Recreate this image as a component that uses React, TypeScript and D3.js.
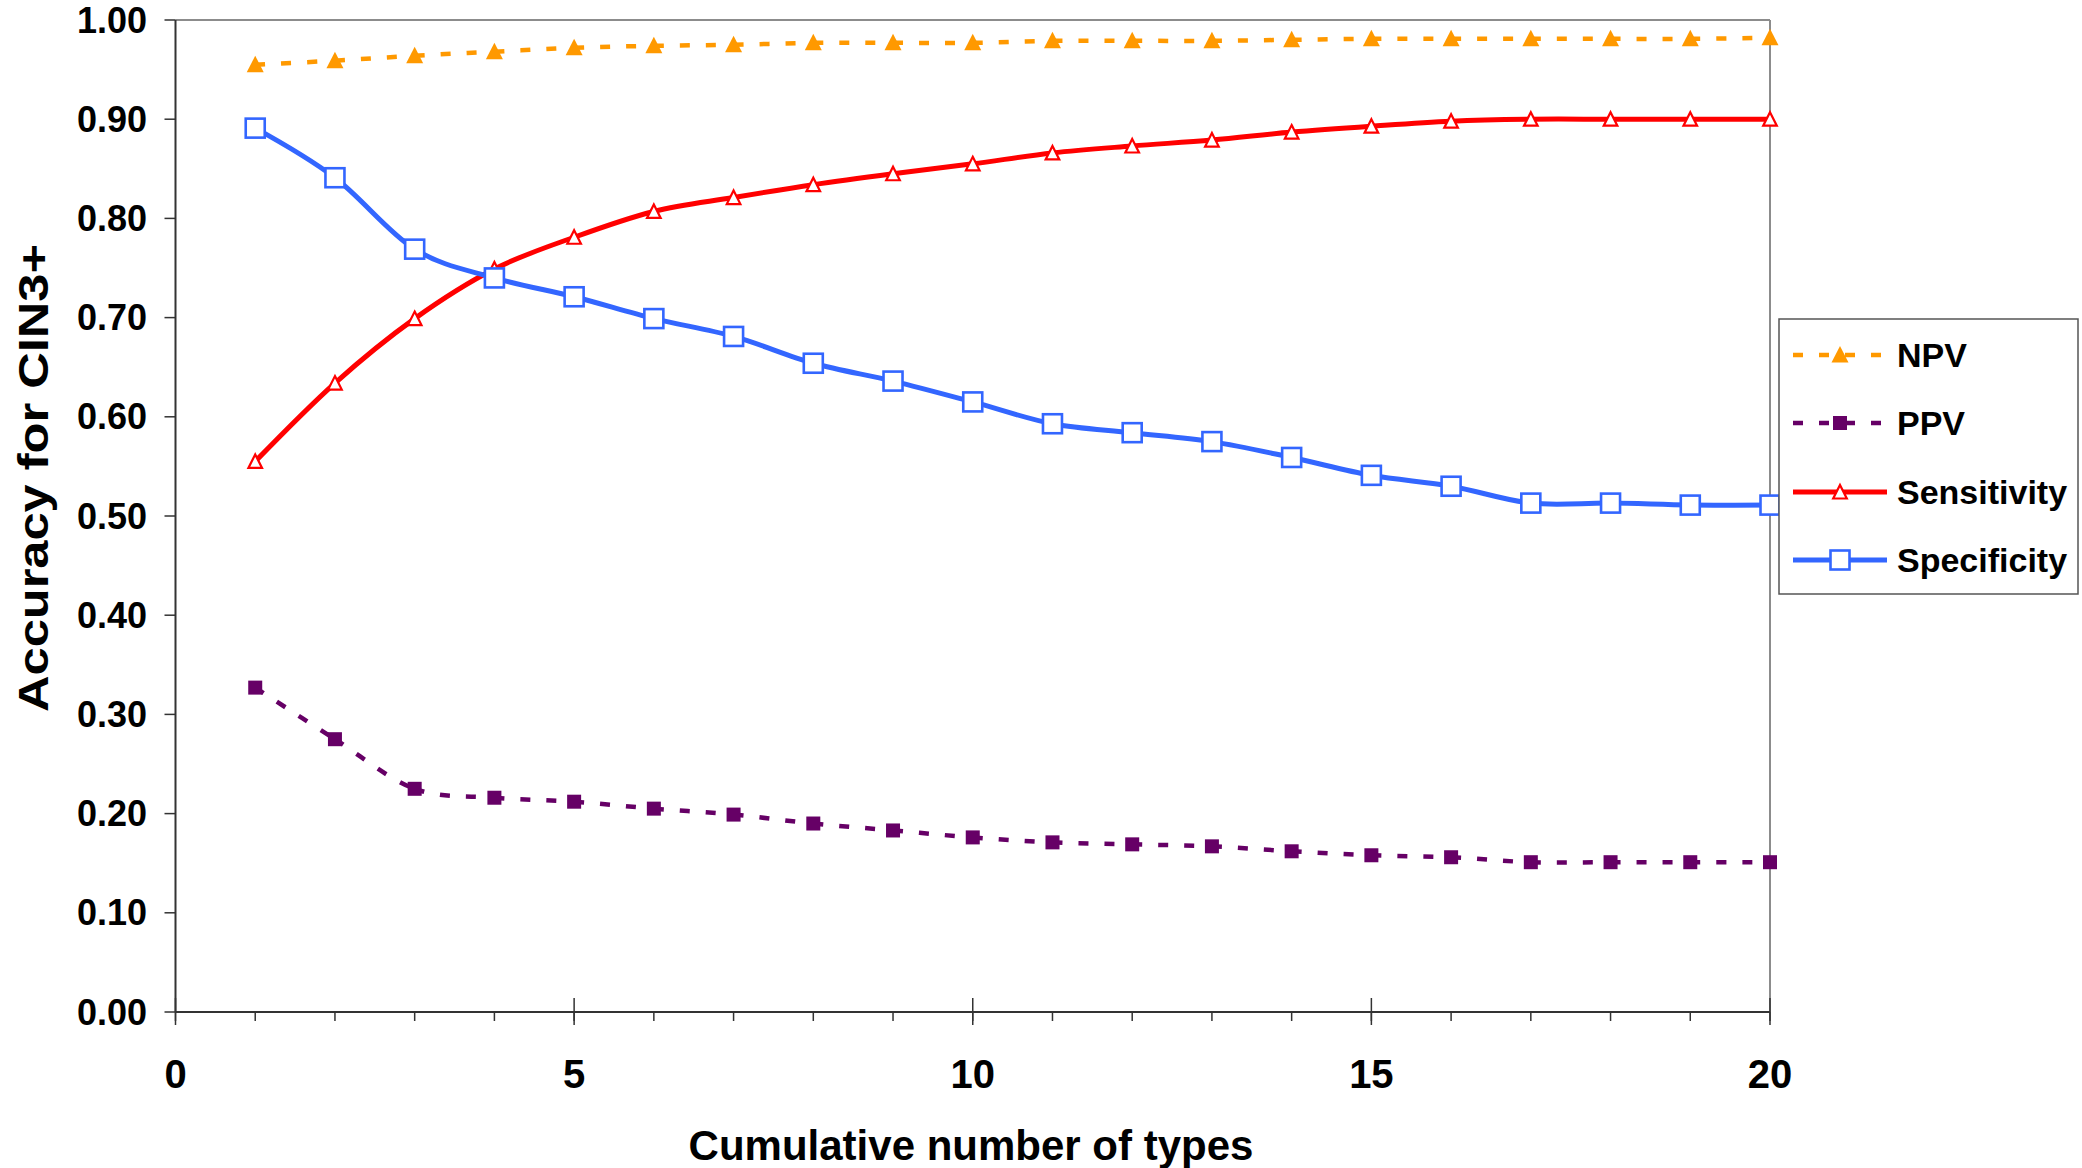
import React, { useEffect } from 'react';
import * as d3 from 'd3';

const types = [1, 2, 3, 4, 5, 6, 7, 8, 9, 10, 11, 12, 13, 14, 15, 16, 17, 18, 19, 20];
const npv = [0.955, 0.959, 0.964, 0.968, 0.972, 0.974, 0.975, 0.977, 0.977, 0.977, 0.979, 0.979, 0.979, 0.980, 0.981, 0.981, 0.981, 0.981, 0.981, 0.982];
const ppv = [0.327, 0.275, 0.225, 0.216, 0.212, 0.205, 0.199, 0.190, 0.183, 0.176, 0.171, 0.169, 0.167, 0.162, 0.158, 0.156, 0.151, 0.151, 0.151, 0.151];
const sensitivity = [0.555, 0.634, 0.699, 0.749, 0.781, 0.807, 0.821, 0.834, 0.845, 0.855, 0.866, 0.873, 0.879, 0.887, 0.893, 0.898, 0.900, 0.900, 0.900, 0.900];
const specificity = [0.891, 0.841, 0.769, 0.740, 0.721, 0.699, 0.681, 0.654, 0.636, 0.615, 0.593, 0.584, 0.575, 0.559, 0.541, 0.530, 0.513, 0.513, 0.511, 0.511];
const yTicks = [0, 0.1, 0.2, 0.3, 0.4, 0.5, 0.6, 0.7, 0.8, 0.9, 1.0];
const xMajorTicks = [0, 5, 10, 15, 20];
const xMinorTicks = [0, 1, 2, 3, 4, 5, 6, 7, 8, 9, 10, 11, 12, 13, 14, 15, 16, 17, 18, 19, 20];
const seriesNames = ['NPV', 'PPV', 'Sensitivity', 'Specificity'];
const xTitle = 'Cumulative number of types';
const yTitle = 'Accuracy for CIN3+';

const FONT = '"Liberation Sans", Arial, Helvetica, sans-serif';
const ORANGE = '#FF9900';
const PURPLE = '#660066';
const RED = '#FF0000';
const BLUE = '#3366FF';

function segmentPaths(pts: [number, number][]): string[] {
  const line = d3.line().curve(d3.curveCardinal.tension(0));
  const d = line(pts) || '';
  const cmds = d.match(/[MCL][^MCL]*/g) || [];
  const res: string[] = [];
  let last = cmds[0].slice(1);
  for (let i = 1; i < cmds.length; i++) {
    res.push('M' + last + cmds[i]);
    const nums = cmds[i].slice(1).split(',');
    last = nums[nums.length - 2] + ',' + nums[nums.length - 1];
  }
  return res;
}

type Kind = 'triFill' | 'sqFill' | 'triOpen' | 'sqOpen';

function Marker({ kind, cx, cy }: { kind: Kind; cx: number; cy: number }) {
  if (kind === 'triFill') {
    return <path d={`M${cx},${cy - 9}L${cx + 8.5},${cy + 7.5}L${cx - 8.5},${cy + 7.5}Z`} fill={ORANGE} />;
  }
  if (kind === 'sqFill') {
    return <rect x={cx - 7} y={cy - 7} width={14} height={14} fill={PURPLE} />;
  }
  if (kind === 'triOpen') {
    return (
      <path
        d={`M${cx},${cy - 7}L${cx + 6.8},${cy + 6.5}L${cx - 6.8},${cy + 6.5}Z`}
        fill="#fff"
        stroke={RED}
        strokeWidth={2.2}
        strokeLinejoin="miter"
      />
    );
  }
  return <rect x={cx - 9.5} y={cy - 9.5} width={19} height={19} fill="#fff" stroke={BLUE} strokeWidth={2.6} />;
}

export default function App() {
  useEffect(() => {
    document.body.style.margin = '0';
  }, []);

  const W = 2082;
  const H = 1168;
  const x = d3.scaleLinear().domain([0, 20]).range([175.5, 1770]);
  const y = d3.scaleLinear().domain([0, 1]).range([1012, 20]);

  const series = [
    { name: seriesNames[0], values: npv, color: ORANGE, dashed: true, kind: 'triFill' as Kind },
    { name: seriesNames[1], values: ppv, color: PURPLE, dashed: true, kind: 'sqFill' as Kind },
    { name: seriesNames[2], values: sensitivity, color: RED, dashed: false, kind: 'triOpen' as Kind },
    { name: seriesNames[3], values: specificity, color: BLUE, dashed: false, kind: 'sqOpen' as Kind },
  ];

  const legendYs = [355, 423, 492, 560];

  return (
    <svg width={W} height={H} style={{ display: 'block', background: '#fff' }} fontFamily={FONT}>
      <rect x={0} y={0} width={W} height={H} fill="#fff" />
      {/* plot frame: top and right gray */}
      <line x1={x(0)} x2={x(20)} y1={y(1)} y2={y(1)} stroke="#8c8c8c" strokeWidth={2} />
      <line x1={x(20)} x2={x(20)} y1={y(1)} y2={y(0)} stroke="#8c8c8c" strokeWidth={2} />

      {/* series lines */}
      {series.map((s) => {
        const pts = s.values.map((v, i) => [x(types[i]), y(v)] as [number, number]);
        const segs = segmentPaths(pts);
        return (
          <g key={s.name}>
            {segs.map((d, i) => (
              <path
                key={i}
                d={d}
                fill="none"
                stroke={s.color}
                strokeWidth={s.dashed ? 4.5 : 5}
                strokeDasharray={s.dashed ? '10 16' : undefined}
                strokeLinecap="butt"
                strokeLinejoin="round"
              />
            ))}
          </g>
        );
      })}
      {series.map((s) => (
        <g key={s.name + '-m'}>
          {s.values.map((v, i) => (
            <Marker key={i} kind={s.kind} cx={x(types[i])} cy={y(v)} />
          ))}
        </g>
      ))}

      {/* y axis */}
      <line x1={x(0)} x2={x(0)} y1={y(1)} y2={y(0)} stroke="#333" strokeWidth={2} />
      {yTicks.map((t) => (
        <g key={t}>
          <line x1={x(0) - 11} x2={x(0)} y1={y(t)} y2={y(t)} stroke="#333" strokeWidth={1.5} />
          <text
            x={147}
            y={y(t)}
            textAnchor="end"
            dominantBaseline="central"
            fontSize={36}
            fontWeight="bold"
            fill="#000"
          >
            {t.toFixed(2)}
          </text>
        </g>
      ))}

      {/* x axis */}
      <line x1={x(0)} x2={x(20)} y1={y(0)} y2={y(0)} stroke="#333" strokeWidth={2} />
      {xMinorTicks.map((t) => (
        <line key={'mi' + t} x1={x(t)} x2={x(t)} y1={y(0)} y2={y(0) + 9} stroke="#333" strokeWidth={1.5} />
      ))}
      {xMajorTicks.map((t) => (
        <g key={'ma' + t}>
          <line x1={x(t)} x2={x(t)} y1={y(0) - 14} y2={y(0) + 13} stroke="#333" strokeWidth={1.5} />
          <text x={x(t)} y={1088} textAnchor="middle" fontSize={40} fontWeight="bold" fill="#000">
            {t}
          </text>
        </g>
      ))}

      {/* axis titles */}
      <text x={971} y={1160} textAnchor="middle" fontSize={42} fontWeight="bold" fill="#000">
        {xTitle}
      </text>
      <text
        transform="translate(48,478) rotate(-90)"
        textAnchor="middle"
        fontSize={43}
        fontWeight="bold"
        fill="#000"
        textLength={468}
        lengthAdjust="spacingAndGlyphs"
      >
        {yTitle}
      </text>

      {/* legend */}
      <rect x={1779} y={319} width={299} height={275} fill="#fff" stroke="#555" strokeWidth={1.5} />
      {series.map((s, i) => (
        <g key={s.name + '-lg'}>
          <line
            x1={1793}
            x2={1887}
            y1={legendYs[i]}
            y2={legendYs[i]}
            stroke={s.color}
            strokeWidth={s.dashed ? 4.5 : 5}
            strokeDasharray={s.dashed ? '10 16' : undefined}
          />
          <Marker kind={s.kind} cx={1840} cy={legendYs[i]} />
          <text x={1897} y={legendYs[i]} dominantBaseline="central" fontSize={34} fontWeight="bold" fill="#000">
            {s.name}
          </text>
        </g>
      ))}
    </svg>
  );
}
